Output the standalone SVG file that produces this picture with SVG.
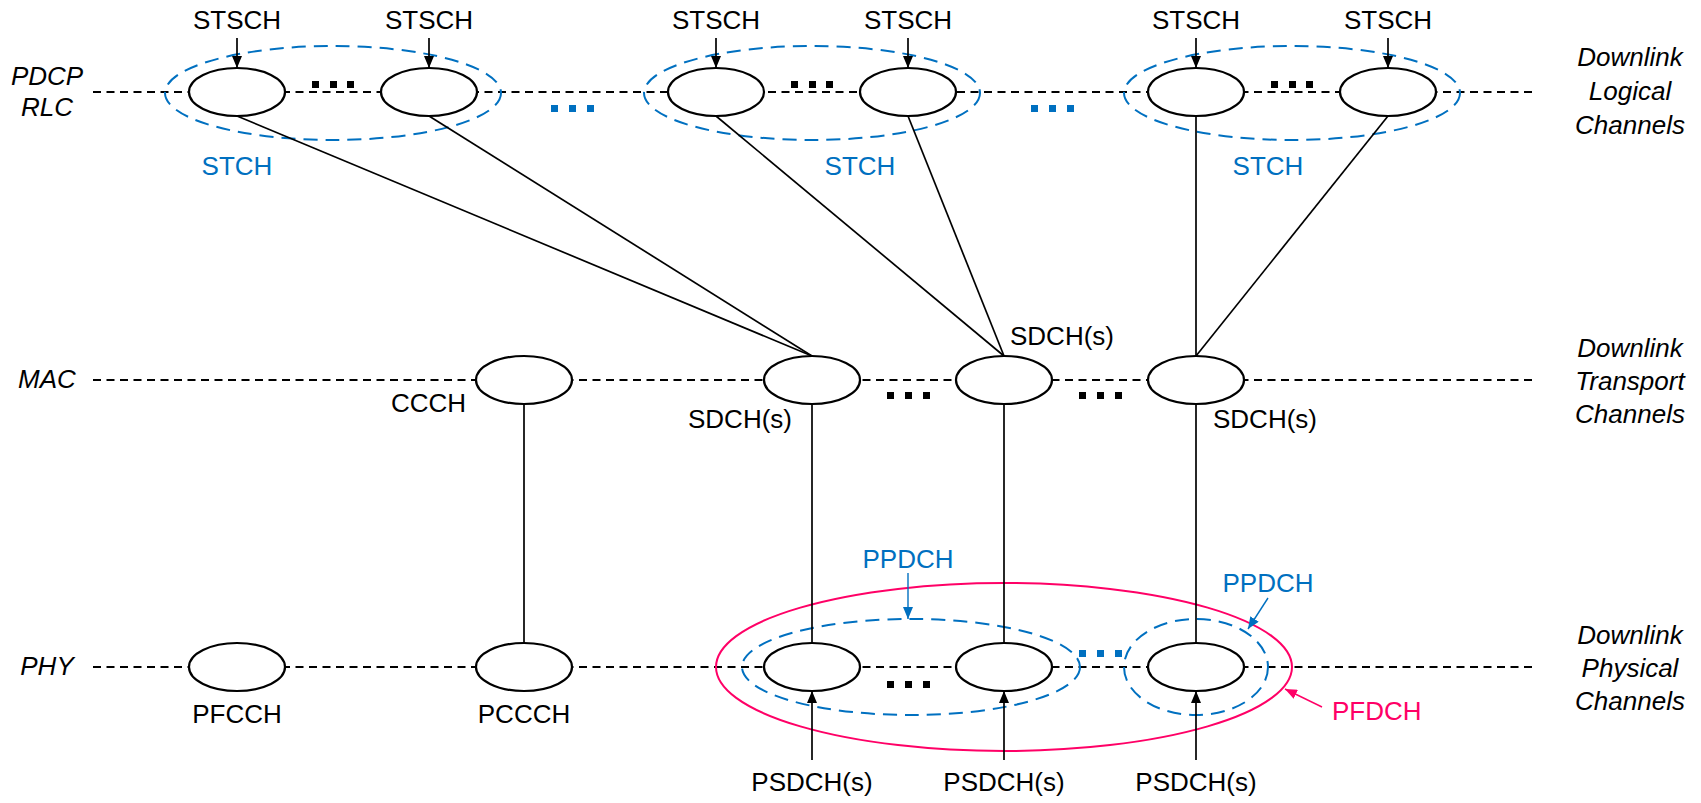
<svg xmlns="http://www.w3.org/2000/svg" width="1701" height="803" viewBox="0 0 1701 803">
  <defs>
    <marker id="arrowK" viewBox="0 0 12 10" refX="12" refY="5" markerWidth="12" markerHeight="10" markerUnits="userSpaceOnUse" orient="auto">
      <path d="M0,0 L12,5 L0,10 Z" fill="#000"/>
    </marker>
    <marker id="arrowB" viewBox="0 0 12 10" refX="12" refY="5" markerWidth="12" markerHeight="10" markerUnits="userSpaceOnUse" orient="auto">
      <path d="M0,0 L12,5 L0,10 Z" fill="#0070C0"/>
    </marker>
    <marker id="arrowR" viewBox="0 0 12 10" refX="12" refY="5" markerWidth="12" markerHeight="10" markerUnits="userSpaceOnUse" orient="auto">
      <path d="M0,0 L12,5 L0,10 Z" fill="#FF0066"/>
    </marker>
  </defs>
  <style>
    text{font-family:"Liberation Sans",Arial,Helvetica,sans-serif;font-size:26px;fill:#000;text-anchor:middle}
    .it{font-style:italic}
    .blue{fill:#0070C0}
    .red{fill:#FF0066}
    .start{text-anchor:start}
    .end{text-anchor:end}
    .layer{stroke:#000;stroke-width:2;stroke-dasharray:8 5.5;fill:none}
    .ch{fill:#fff;stroke:#000;stroke-width:2.2}
    .grp{fill:none;stroke:#0070C0;stroke-width:2;stroke-dasharray:14 8}
    .pf{fill:none;stroke:#FF0066;stroke-width:2}
    .link{stroke:#000;stroke-width:1.7;fill:none}
    .barB{stroke:#0070C0;stroke-width:1.4;fill:none}
    .barR{stroke:#FF0066;stroke-width:1.4;fill:none}
    .dot{fill:#000}
    .bdot{fill:#0070C0}
  </style>
  <rect width="1701" height="803" fill="#fff"/>

  <!-- layer labels -->
  <g id="layer-labels">
    <text class="it" x="47" y="85">PDCP</text>
    <text class="it" x="47" y="116">RLC</text>
    <text class="it" x="47" y="388">MAC</text>
    <text class="it" x="47" y="675">PHY</text>
    <text class="it" x="1630" y="66">Downlink</text>
    <text class="it" x="1630" y="100">Logical</text>
    <text class="it" x="1630" y="134">Channels</text>
    <text class="it" x="1630" y="357">Downlink</text>
    <text class="it" x="1630" y="390">Transport</text>
    <text class="it" x="1630" y="423">Channels</text>
    <text class="it" x="1630" y="644">Downlink</text>
    <text class="it" x="1630" y="677">Physical</text>
    <text class="it" x="1630" y="710">Channels</text>
  </g>

  <!-- dashed layer rails -->
  <g id="rails">
    <line class="layer" x1="93" y1="92" x2="1532" y2="92"/>
    <line class="layer" x1="93" y1="380" x2="1532" y2="380"/>
    <line class="layer" x1="93" y1="667" x2="1532" y2="667"/>
  </g>

  <!-- channel groupings -->
  <g id="groups">
    <ellipse class="grp" cx="333" cy="93" rx="168" ry="47"/>
    <ellipse class="grp" cx="812" cy="93" rx="168" ry="47"/>
    <ellipse class="grp" cx="1292" cy="93" rx="168" ry="47"/>
    <text class="blue" x="237" y="175">STCH</text>
    <text class="blue" x="860" y="175">STCH</text>
    <text class="blue" x="1268" y="175">STCH</text>
    <ellipse class="grp" cx="911" cy="667" rx="169" ry="48"/>
    <ellipse class="grp" cx="1196" cy="667" rx="72" ry="48"/>
    <ellipse class="pf" cx="1004" cy="667" rx="288" ry="84"/>
    <text class="blue" x="908" y="568">PPDCH</text>
    <text class="blue" x="1268" y="592">PPDCH</text>
    <text class="red start" x="1332" y="720">PFDCH</text>
  </g>

  <!-- continuation dots -->
  <g id="dots">
    <rect class="dot" x="312" y="81" width="7" height="7"/>
    <rect class="dot" x="330" y="81" width="7" height="7"/>
    <rect class="dot" x="347" y="81" width="7" height="7"/>
    <rect class="dot" x="791" y="81" width="7" height="7"/>
    <rect class="dot" x="809" y="81" width="7" height="7"/>
    <rect class="dot" x="826" y="81" width="7" height="7"/>
    <rect class="dot" x="1271" y="81" width="7" height="7"/>
    <rect class="dot" x="1289" y="81" width="7" height="7"/>
    <rect class="dot" x="1306" y="81" width="7" height="7"/>
    <rect class="bdot" x="551" y="105" width="7" height="7"/>
    <rect class="bdot" x="569" y="105" width="7" height="7"/>
    <rect class="bdot" x="587" y="105" width="7" height="7"/>
    <rect class="bdot" x="1031" y="105" width="7" height="7"/>
    <rect class="bdot" x="1049" y="105" width="7" height="7"/>
    <rect class="bdot" x="1067" y="105" width="7" height="7"/>
    <rect class="dot" x="887" y="392" width="7" height="7"/>
    <rect class="dot" x="905" y="392" width="7" height="7"/>
    <rect class="dot" x="923" y="392" width="7" height="7"/>
    <rect class="dot" x="1079" y="392" width="7" height="7"/>
    <rect class="dot" x="1097" y="392" width="7" height="7"/>
    <rect class="dot" x="1115" y="392" width="7" height="7"/>
    <rect class="dot" x="887" y="681" width="7" height="7"/>
    <rect class="dot" x="905" y="681" width="7" height="7"/>
    <rect class="dot" x="923" y="681" width="7" height="7"/>
    <rect class="bdot" x="1079" y="650" width="7" height="7"/>
    <rect class="bdot" x="1097" y="650" width="7" height="7"/>
    <rect class="bdot" x="1115" y="650" width="7" height="7"/>
  </g>

  <!-- connectors -->
  <g id="connectors">
    <line class="link" x1="237" y1="116" x2="812" y2="356"/>
    <line class="link" x1="429" y1="116" x2="812" y2="356"/>
    <line class="link" x1="716" y1="116" x2="1004" y2="356"/>
    <line class="link" x1="908" y1="116" x2="1004" y2="356"/>
    <line class="link" x1="1196" y1="116" x2="1196" y2="356"/>
    <line class="link" x1="1388" y1="116" x2="1196" y2="356"/>
    <line class="link" x1="524" y1="404" x2="524" y2="643"/>
    <line class="link" x1="812" y1="404" x2="812" y2="643"/>
    <line class="link" x1="1004" y1="404" x2="1004" y2="643"/>
    <line class="link" x1="1196" y1="404" x2="1196" y2="643"/>
    <line class="link" x1="237" y1="38" x2="237" y2="68" marker-end="url(#arrowK)"/>
    <line class="link" x1="429" y1="38" x2="429" y2="68" marker-end="url(#arrowK)"/>
    <line class="link" x1="716" y1="38" x2="716" y2="68" marker-end="url(#arrowK)"/>
    <line class="link" x1="908" y1="38" x2="908" y2="68" marker-end="url(#arrowK)"/>
    <line class="link" x1="1196" y1="38" x2="1196" y2="68" marker-end="url(#arrowK)"/>
    <line class="link" x1="1388" y1="38" x2="1388" y2="68" marker-end="url(#arrowK)"/>
    <line class="link" x1="812" y1="760" x2="812" y2="691" marker-end="url(#arrowK)"/>
    <line class="link" x1="1004" y1="760" x2="1004" y2="691" marker-end="url(#arrowK)"/>
    <line class="link" x1="1196" y1="760" x2="1196" y2="691" marker-end="url(#arrowK)"/>
    <line class="barB" x1="908" y1="573" x2="908" y2="619" marker-end="url(#arrowB)"/>
    <line class="barB" x1="1268" y1="598" x2="1248" y2="629" marker-end="url(#arrowB)"/>
    <line class="barR" x1="1322" y1="707" x2="1285" y2="689" marker-end="url(#arrowR)"/>
  </g>

  <!-- PDCP/RLC logical channels -->
  <g id="stsch-1"><ellipse class="ch" cx="237" cy="92" rx="48" ry="24"/><text x="237" y="29">STSCH</text></g>
  <g id="stsch-2"><ellipse class="ch" cx="429" cy="92" rx="48" ry="24"/><text x="429" y="29">STSCH</text></g>
  <g id="stsch-3"><ellipse class="ch" cx="716" cy="92" rx="48" ry="24"/><text x="716" y="29">STSCH</text></g>
  <g id="stsch-4"><ellipse class="ch" cx="908" cy="92" rx="48" ry="24"/><text x="908" y="29">STSCH</text></g>
  <g id="stsch-5"><ellipse class="ch" cx="1196" cy="92" rx="48" ry="24"/><text x="1196" y="29">STSCH</text></g>
  <g id="stsch-6"><ellipse class="ch" cx="1388" cy="92" rx="48" ry="24"/><text x="1388" y="29">STSCH</text></g>

  <!-- MAC transport channels -->
  <g id="ccch"><ellipse class="ch" cx="524" cy="380" rx="48" ry="24"/><text class="end" x="466" y="412">CCCH</text></g>
  <g id="sdch-1"><ellipse class="ch" cx="812" cy="380" rx="48" ry="24"/><text class="end" x="792" y="428">SDCH(s)</text></g>
  <g id="sdch-2"><ellipse class="ch" cx="1004" cy="380" rx="48" ry="24"/><text class="start" x="1010" y="345">SDCH(s)</text></g>
  <g id="sdch-3"><ellipse class="ch" cx="1196" cy="380" rx="48" ry="24"/><text class="start" x="1213" y="428">SDCH(s)</text></g>

  <!-- PHY physical channels -->
  <g id="pfcch"><ellipse class="ch" cx="237" cy="667" rx="48" ry="24"/><text x="237" y="723">PFCCH</text></g>
  <g id="pccch"><ellipse class="ch" cx="524" cy="667" rx="48" ry="24"/><text x="524" y="723">PCCCH</text></g>
  <g id="psdch-1"><ellipse class="ch" cx="812" cy="667" rx="48" ry="24"/><text x="812" y="791">PSDCH(s)</text></g>
  <g id="psdch-2"><ellipse class="ch" cx="1004" cy="667" rx="48" ry="24"/><text x="1004" y="791">PSDCH(s)</text></g>
  <g id="psdch-3"><ellipse class="ch" cx="1196" cy="667" rx="48" ry="24"/><text x="1196" y="791">PSDCH(s)</text></g>
</svg>
